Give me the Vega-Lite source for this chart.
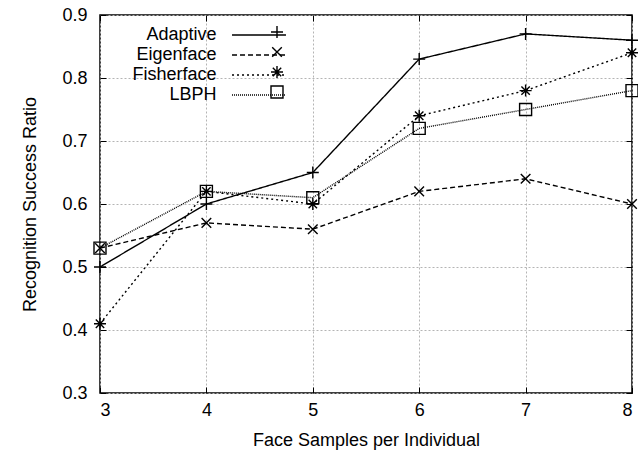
{
  "$schema": "https://vega.github.io/schema/vega-lite/v6.json",
  "width": 532,
  "height": 378,
  "autosize": {"type": "none"},
  "padding": {"left": 100, "top": 15, "right": 6, "bottom": 63},
  "background": "white",
  "config": {
    "font": "Liberation Sans",
    "view": {"stroke": "#000", "strokeWidth": 1.5},
    "axis": {
      "labelFont": "Liberation Sans",
      "labelFontSize": 18,
      "labelColor": "#000",
      "titleFont": "Liberation Sans",
      "titleFontSize": 18,
      "titleFontWeight": "normal",
      "titleColor": "#000",
      "domain": false,
      "tickColor": "#000",
      "tickWidth": 1,
      "tickSize": -6,
      "gridColor": "#b4b4b4",
      "gridDash": [2, 2],
      "gridWidth": 1
    },
    "legend": {
      "padding": 0,
      "labelFont": "Liberation Sans",
      "labelFontSize": 18,
      "labelColor": "#000",
      "rowPadding": 2
    }
  },
  "data": {
    "values": [
      {"samples": 3, "ratio": 0.50, "method": "Adaptive"},
      {"samples": 4, "ratio": 0.60, "method": "Adaptive"},
      {"samples": 5, "ratio": 0.65, "method": "Adaptive"},
      {"samples": 6, "ratio": 0.83, "method": "Adaptive"},
      {"samples": 7, "ratio": 0.87, "method": "Adaptive"},
      {"samples": 8, "ratio": 0.86, "method": "Adaptive"},
      {"samples": 3, "ratio": 0.53, "method": "Eigenface"},
      {"samples": 4, "ratio": 0.57, "method": "Eigenface"},
      {"samples": 5, "ratio": 0.56, "method": "Eigenface"},
      {"samples": 6, "ratio": 0.62, "method": "Eigenface"},
      {"samples": 7, "ratio": 0.64, "method": "Eigenface"},
      {"samples": 8, "ratio": 0.60, "method": "Eigenface"},
      {"samples": 3, "ratio": 0.41, "method": "Fisherface"},
      {"samples": 4, "ratio": 0.62, "method": "Fisherface"},
      {"samples": 5, "ratio": 0.60, "method": "Fisherface"},
      {"samples": 6, "ratio": 0.74, "method": "Fisherface"},
      {"samples": 7, "ratio": 0.78, "method": "Fisherface"},
      {"samples": 8, "ratio": 0.84, "method": "Fisherface"},
      {"samples": 3, "ratio": 0.53, "method": "LBPH"},
      {"samples": 4, "ratio": 0.62, "method": "LBPH"},
      {"samples": 5, "ratio": 0.61, "method": "LBPH"},
      {"samples": 6, "ratio": 0.72, "method": "LBPH"},
      {"samples": 7, "ratio": 0.75, "method": "LBPH"},
      {"samples": 8, "ratio": 0.78, "method": "LBPH"}
    ]
  },
  "resolve": {"axis": {"x": "independent", "y": "independent"}},
  "layer": [
    {
      "mark": {"type": "line", "color": "#000", "strokeWidth": 1.4},
      "encoding": {
        "x": {
          "field": "samples", "type": "quantitative",
          "scale": {"domain": [3, 8], "nice": false, "zero": false},
          "axis": {"values": [3, 4, 5, 6, 7, 8], "grid": true, "labelPadding": 14, "title": "Face Samples per Individual", "titlePadding": 12}
        },
        "y": {
          "field": "ratio", "type": "quantitative",
          "scale": {"domain": [0.3, 0.9], "nice": false, "zero": false},
          "axis": {"values": [0.3, 0.4, 0.5, 0.6, 0.7, 0.8, 0.9], "format": ".1f", "grid": true, "labelPadding": 19, "title": "Recognition Success Ratio", "titlePadding": 22}
        },
        "strokeDash": {
          "field": "method", "type": "nominal",
          "scale": {"domain": ["Adaptive", "Eigenface", "Fisherface", "LBPH"], "range": [[1, 0], [5, 3], [2, 3], [1, 1]]},
          "legend": {
            "title": null, "orient": "none", "legendX": 150, "legendY": 11,
            "symbolType": "M-4,0L4,0", "symbolSize": 182, "symbolStrokeWidth": 1.4, "symbolStrokeColor": "#000", "symbolFillColor": "transparent",
            "labelAlign": "right", "labelOffset": -51.5
          }
        }
      }
    },
    {
      "mark": {"type": "point", "filled": false, "color": "#000", "strokeWidth": 1.4, "size": 144, "opacity": 1},
      "encoding": {
        "x": {"field": "samples", "type": "quantitative", "axis": null},
        "y": {"field": "ratio", "type": "quantitative", "axis": null},
        "shape": {
          "field": "method", "type": "nominal",
          "scale": {"domain": ["Adaptive", "Eigenface", "Fisherface", "LBPH"], "range": ["M-1,0L1,0M0,-1L0,1", "M-0.8,-0.8L0.8,0.8M-0.8,0.8L0.8,-0.8", "M-1,0L1,0M0,-1L0,1M-0.7,-0.7L0.7,0.7M-0.7,0.7L0.7,-0.7", "square"]},
          "legend": {
            "title": null, "orient": "top-left", "offset": 8,
            "symbolSize": 144, "symbolStrokeWidth": 1.4, "symbolStrokeColor": "#000", "symbolFillColor": "transparent",
            "symbolOffset": 160, "labelOpacity": 0
          }
        }
      }
    },
    {
      "mark": {"type": "point", "opacity": 0},
      "encoding": {
        "x": {"field": "samples", "type": "quantitative", "axis": {"orient": "top", "values": [3, 4, 5, 6, 7, 8], "labels": false, "grid": false, "title": null}},
        "y": {"field": "ratio", "type": "quantitative", "axis": {"orient": "right", "values": [0.3, 0.4, 0.5, 0.6, 0.7, 0.8, 0.9], "labels": false, "grid": false, "title": null}}
      }
    }
  ]
}
